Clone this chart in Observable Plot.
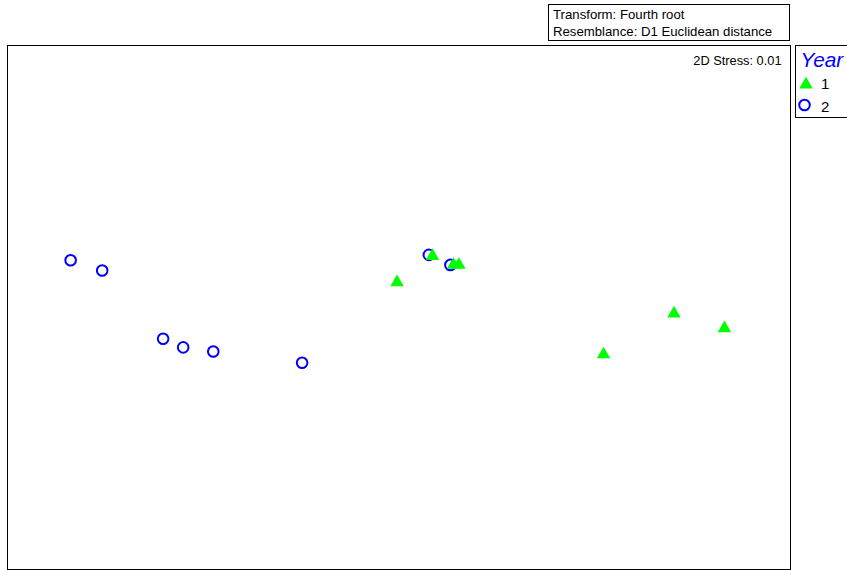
<!DOCTYPE html>
<html>
<head>
<meta charset="utf-8">
<script src="https://cdn.jsdelivr.net/npm/d3@7"></script>
<script src="https://cdn.jsdelivr.net/npm/@observablehq/plot@0.6"></script>
<style>
  html, body { margin: 0; padding: 0; background: #fff; }
  #chart { position: relative; width: 847px; height: 570px; overflow: hidden; }
  svg text { font-family: "Liberation Sans", Arial, sans-serif; }
</style>
</head>
<body>
<div id="chart"></div>
<script>
// nMDS ordination coordinates per sample
const year1MDS1 = [-0.008, 0.137, 0.223, 0.245, 1.124, 1.330, 0.836];
const year1MDS2 = [0.103, 0.210, 0.174, 0.174, -0.025, -0.085, -0.192];
const year2MDS1 = [-1.342, -1.213, -0.964, -0.882, -0.759, -0.396, 0.122, 0.210];
const year2MDS2 = [0.193, 0.151, -0.128, -0.163, -0.180, -0.226, 0.215, 0.174];

const years = ["1", "2"];
const yearColors = ["#00ff00", "#0000ff"];
const stressLabel = "2D Stress: 0.01";
const headerLines = ["Transform: Fourth root", "Resemblance: D1 Euclidean distance"];
const legendTitle = "Year";

const samples = [
  ...year1MDS1.map((x, i) => ({year: "1", mds1: x, mds2: year1MDS2[i]})),
  ...year2MDS1.map((x, i) => ({year: "2", mds1: x, mds2: year2MDS2[i]}))
];

const W = 847, H = 570;
const mL = 7, mR = 57, mT = 45, mB = 1;
const innerW = W - mL - mR, innerH = H - mT - mB;
const xHalf = 1.6;
const yHalf = xHalf * innerH / innerW; // equal aspect ratio

const plot = Plot.plot({
  width: W,
  height: H,
  marginLeft: mL,
  marginRight: mR,
  marginTop: mT,
  marginBottom: mB,
  x: {domain: [-xHalf, xHalf], axis: null},
  y: {domain: [-yHalf, yHalf], axis: null},
  marks: [
    Plot.frame({stroke: "#000", strokeWidth: 1}),
    Plot.dot(samples.filter(d => d.year === "2"), {
      x: "mds1", y: "mds2", symbol: "circle", r: 5.3,
      stroke: yearColors[1], strokeWidth: 2, fill: "none"
    }),
    Plot.dot(samples.filter(d => d.year === "1"), {
      x: "mds1", y: "mds2", symbol: "triangle", r: 5,
      fill: yearColors[0], stroke: "none"
    }),
    Plot.text([stressLabel], {
      frameAnchor: "top-right", dx: -9, dy: 10,
      fontSize: 12.8, fill: "#000", fontFamily: "Liberation Sans, Arial, sans-serif"
    })
  ]
});

document.getElementById("chart").appendChild(plot);

// Header box and legend drawn into the same SVG
const svg = d3.select(plot);
const font = "Liberation Sans, Arial, sans-serif";

const header = svg.append("g").attr("text-anchor", "start");
header.append("rect")
  .attr("x", 548.5).attr("y", 4.5).attr("width", 241).attr("height", 36)
  .attr("fill", "#fff").attr("stroke", "#000");
header.selectAll("text").data(headerLines).join("text")
  .attr("x", 553).attr("y", (d, i) => 18.5 + i * 17.5)
  .attr("font-family", font).attr("font-size", 13.2).attr("fill", "#000")
  .text(d => d);

const legend = svg.append("g").attr("text-anchor", "start");
legend.append("rect")
  .attr("x", 795.5).attr("y", 45.5).attr("width", 60).attr("height", 72)
  .attr("fill", "#fff").attr("stroke", "#000");
legend.append("text")
  .attr("x", 800.5).attr("y", 66.7)
  .attr("font-family", font).attr("font-size", 20.8).attr("font-style", "italic")
  .attr("fill", "#0000ff").text(legendTitle);
years.forEach((yr, i) => {
  if (i === 0) {
    legend.append("path")
      .attr("transform", "translate(806,84.5)")
      .attr("d", d3.symbol(d3.symbolTriangle, Math.PI * 25)())
      .attr("fill", yearColors[0]);
  } else {
    legend.append("circle")
      .attr("cx", 804.5).attr("cy", 105).attr("r", 5.3)
      .attr("fill", "none").attr("stroke", yearColors[1]).attr("stroke-width", 2);
  }
  legend.append("text")
    .attr("x", 821).attr("y", 88.5 + i * 23)
    .attr("font-family", font).attr("font-size", 15).attr("fill", "#000")
    .text(yr);
});
</script>
</body>
</html>
